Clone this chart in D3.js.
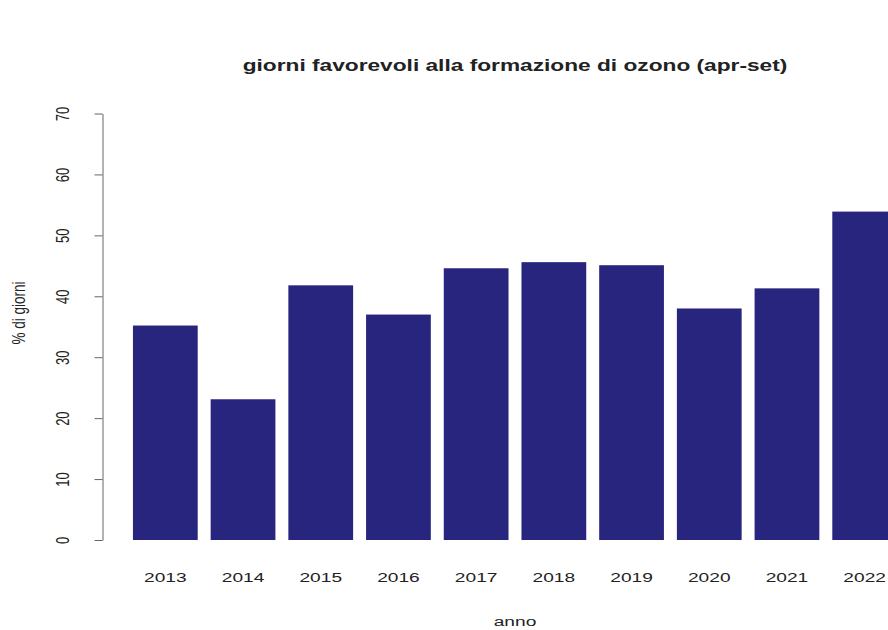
<!DOCTYPE html>
<html>
<head>
<meta charset="utf-8">
<script src="https://cdn.jsdelivr.net/npm/d3@7"></script>
<style>
html,body{margin:0;padding:0;background:#fff;}
svg{display:block;}
text{font-family:"Liberation Sans",Arial,Helvetica,sans-serif;fill:#222;}
</style>
</head>
<body>
<script>
const years = ["2013","2014","2015","2016","2017","2018","2019","2020","2021","2022"];
const values = [35.2, 23.1, 41.8, 37.0, 44.6, 45.6, 45.1, 38.0, 41.3, 53.9];
const yTicks = [0,10,20,30,40,50,60,70];
const titleText = "giorni favorevoli alla formazione di ozono (apr-set)";
const xLabel = "anno";
const yLabel = "% di giorni";

const W = 888, H = 630;
const SX = 1.42; // horizontal stretch of the text in the reference
const svg = d3.select("body").append("svg").attr("width", W).attr("height", H);

const y = d3.scaleLinear().domain([0,70]).range([540,113.5]);
const x = d3.scaleBand().domain(years).range([120, 910]).paddingInner(1/6).paddingOuter(1/6);

svg.append("g").selectAll("rect").data(values).join("rect")
  .attr("x", (d,i)=>x(years[i]))
  .attr("width", x.bandwidth())
  .attr("y", d=>y(d))
  .attr("height", d=>y(0)-y(d))
  .attr("fill", "#28257f");

// y axis
const yAxis = d3.axisLeft(y).tickValues(yTicks).tickSize(8).tickSizeOuter(0).tickPadding(0);
const ga = svg.append("g").attr("transform","translate(102.5,0)").call(yAxis);
ga.select(".domain").attr("stroke","#666");
ga.selectAll(".tick line").attr("stroke","#666");
ga.selectAll(".tick text").remove();
ga.selectAll(".tick").append("text")
  .attr("transform",`translate(-40,0) scale(${SX},1) rotate(-90)`)
  .attr("text-anchor","middle")
  .attr("dy","0.35em")
  .style("font-size","13px")
  .attr("fill","#333")
  .text(d=>d);

// x labels
const xAxis = d3.axisBottom(x).tickSize(0).tickPadding(0);
const gx = svg.append("g").attr("transform","translate(0,582)").call(xAxis);
gx.select(".domain").remove();
gx.selectAll(".tick text").remove();
gx.selectAll(".tick").append("text")
  .attr("transform",`scale(${SX},1)`)
  .attr("text-anchor","middle")
  .style("font-size","13.5px").attr("fill","#333")
  .text(d=>d);

// title
svg.append("text").attr("transform",`translate(515,71) scale(${SX},1)`).attr("text-anchor","middle")
  .style("font-size","16px").style("font-weight","bold").text(titleText);

// axis titles
svg.append("text").attr("transform",`translate(515,626) scale(${SX},1)`).attr("text-anchor","middle")
  .style("font-size","13.5px").attr("fill","#333").text(xLabel);
svg.append("text").attr("transform",`translate(25,313) scale(${SX},1) rotate(-90)`).attr("text-anchor","middle")
  .style("font-size","13.5px").attr("fill","#333").text(yLabel);
</script>
</body>
</html>
